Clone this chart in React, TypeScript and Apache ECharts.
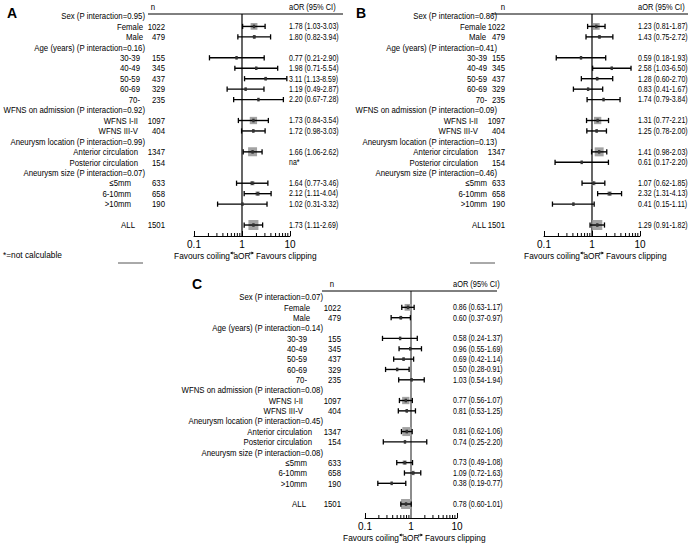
import React, { useEffect, useRef } from "react";
import * as echarts from "echarts";

// ---------- data ----------
const subgroups = [
  "Female", "Male", "30-39", "40-49", "50-59", "60-69", "70-",
  "WFNS I-II", "WFNS III-V", "Anterior circulation", "Posterior circulation",
  "≤5mm", "6-10mm", ">10mm", "ALL",
];
const subgroupRows = [1, 2, 4, 5, 6, 7, 8, 10, 11, 13, 14, 16, 17, 18, 20];
const subgroupGroup = [0, 0, 1, 1, 1, 1, 1, 2, 2, 3, 3, 4, 4, 4, 5];
const nValues = [1022, 479, 155, 345, 437, 329, 235, 1097, 404, 1347, 154, 633, 658, 190, 1501];

const headerNames = ["Sex", "Age (years)", "WFNS on admission", "Aneurysm location", "Aneurysm size"];
const headerRows = [0, 3, 9, 12, 15];

const pInteractionA = ["0.95", "0.16", "0.92", "0.99", "0.07"];
const pInteractionB = ["0.86", "0.41", "0.09", "0.13", "0.46"];
const pInteractionC = ["0.07", "0.14", "0.08", "0.45", "0.08"];

const estA = [1.78, 1.8, 0.77, 1.98, 3.11, 1.19, 2.2, 1.73, 1.72, 1.66, null, 1.64, 2.12, 1.02, 1.73];
const lowA = [1.03, 0.82, 0.21, 0.71, 1.13, 0.49, 0.67, 0.84, 0.98, 1.06, null, 0.77, 1.11, 0.31, 1.11];
const highA = [3.03, 3.94, 2.9, 5.54, 8.59, 2.87, 7.28, 3.54, 3.03, 2.62, null, 3.46, 4.04, 3.32, 2.69];

const estB = [1.23, 1.43, 0.59, 2.58, 1.28, 0.83, 1.74, 1.31, 1.25, 1.41, 0.61, 1.07, 2.32, 0.41, 1.29];
const lowB = [0.81, 0.75, 0.18, 1.03, 0.6, 0.41, 0.79, 0.77, 0.78, 0.98, 0.17, 0.62, 1.31, 0.15, 0.91];
const highB = [1.87, 2.72, 1.93, 6.5, 2.7, 1.67, 3.84, 2.21, 2.0, 2.03, 2.2, 1.85, 4.13, 1.11, 1.82];

const estC = [0.86, 0.6, 0.58, 0.96, 0.69, 0.5, 1.03, 0.77, 0.81, 0.81, 0.74, 0.73, 1.09, 0.38, 0.78];
const lowC = [0.63, 0.37, 0.24, 0.55, 0.42, 0.28, 0.54, 0.56, 0.53, 0.62, 0.25, 0.49, 0.72, 0.19, 0.6];
const highC = [1.17, 0.97, 1.37, 1.69, 1.14, 0.91, 1.94, 1.07, 1.25, 1.06, 2.2, 1.08, 1.63, 0.77, 1.01];

const minorTickValues = [0.2, 0.3, 0.4, 0.5, 0.6, 0.7, 0.8, 0.9, 2, 3, 4, 5, 6, 7, 8, 9];

// ---------- layout ----------
const FONT = "'Liberation Sans', Arial, sans-serif";
const SX_LABEL = 0.84;
const SX_VALUE = 0.75;

const panels = [
  {
    letter: "A", letterX: 12, letterY: 13,
    est: estA, low: lowA, high: highA, p: pInteractionA,
    grid: { left: 194, top: 14, width: 96, height: 222 }, yMin: -0.19, yMax: 21.05,
    hdrDx: -49, subDx: [-51, -54, -56, -56, -63, -59], nDx: -29, nHdrDx: -41, lineFrom: -46, lineTo: 53, valDx: -1,
    refColor: "#000", refWidth: 1.2,
  },
  {
    letter: "B", letterX: 361, letterY: 13,
    est: estB, low: lowB, high: highB, p: pInteractionB,
    grid: { left: 544, top: 14, width: 96, height: 222 }, yMin: -0.19, yMax: 21.05,
    hdrDx: -47, subDx: [-58, -57, -66, -66, -57, -58], nDx: -39, nHdrDx: -41, lineFrom: -52, lineTo: 48, valDx: -2,
    refColor: "#000", refWidth: 1.2,
  },
  {
    letter: "C", letterX: 197, letterY: 284,
    est: estC, low: lowC, high: highC, p: pInteractionC,
    grid: { left: 365, top: 291, width: 92, height: 227 }, yMin: -0.58, yMax: 21.35,
    hdrDx: -42, subDx: [-55, -58, -62, -53, -58, -59], nDx: -24, nHdrDx: -33, lineFrom: -43, lineTo: 40, valDx: -4,
    refColor: "#8c8c8c", refWidth: 2,
  },
];

function txt(x: number, y: number, text: string, align: string, size = 9.3, sx = SX_LABEL) {
  return {
    type: "text",
    x, y, scaleX: sx, scaleY: 1,
    style: {
      x: 0, y: 0, text,
      fill: "#000", textFill: "#000",
      font: `${size}px ${FONT}`,
      align, textAlign: align,
      verticalAlign: "middle", textVerticalAlign: "middle",
    },
  };
}

function fmt(v: number) {
  return v.toFixed(2);
}

function buildOption() {
  const series: any[] = [];
  panels.forEach((p, pi) => {
    // frame: reference line, header line, column headers, bottom caption
    series.push({
      type: "custom", xAxisIndex: pi, yAxisIndex: pi, clip: false, z: 1,
      encode: { x: 0, y: 1 },
      data: [[1, 0]],
      itemStyle: { color: "#000" },
      renderItem: (params: any, api: any) => {
        const cs = params.coordSys;
        const x1 = api.coord([1, 0])[0];
        const top = cs.y, bottom = cs.y + cs.height, L = cs.x, R = cs.x + cs.width;
        const ay = bottom + 17;
        return {
          type: "group",
          children: [
            { type: "line", shape: { x1, y1: top, x2: x1, y2: bottom }, style: { stroke: p.refColor, lineWidth: p.refWidth } },
            { type: "line", shape: { x1: L + p.lineFrom, y1: top, x2: R + p.lineTo, y2: top }, style: { stroke: "#000", lineWidth: 1 } },
            txt(L + p.nHdrDx, top - 7, "n", "center"),
            txt(R + p.valDx, top - 7, "aOR (95% CI)", "left", 9.3, 0.8),
            txt(x1 - 12, bottom + 20, "Favours coiling", "right", 9.8, 0.85),
            txt(x1, bottom + 20, "aOR", "center", 9.8, 0.85),
            txt(x1 + 14, bottom + 20, "Favours clipping", "left", 9.8, 0.85),
            { type: "line", shape: { x1: x1 - 7, y1: ay, x2: x1 - 10, y2: ay }, style: { stroke: "#000", lineWidth: 0.8 } },
            { type: "polygon", shape: { points: [[x1 - 12, ay], [x1 - 9.5, ay - 1.5], [x1 - 9.5, ay + 1.5]] }, style: { fill: "#000" } },
            { type: "line", shape: { x1: x1 + 7, y1: ay, x2: x1 + 10, y2: ay }, style: { stroke: "#000", lineWidth: 0.8 } },
            { type: "polygon", shape: { points: [[x1 + 12, ay], [x1 + 9.5, ay - 1.5], [x1 + 9.5, ay + 1.5]] }, style: { fill: "#000" } },
          ],
        };
      },
    });
    // minor ticks
    series.push({
      type: "custom", xAxisIndex: pi, yAxisIndex: pi, clip: false, z: 2,
      encode: { x: 0, y: 1 },
      data: minorTickValues.map((v) => [v, 0]),
      itemStyle: { color: "#000" },
      renderItem: (params: any, api: any) => {
        const cs = params.coordSys;
        const x = api.coord([api.value(0), 0])[0];
        const bottom = cs.y + cs.height;
        return { type: "line", shape: { x1: x, y1: bottom, x2: x, y2: bottom - 3 }, style: { stroke: "#000", lineWidth: 1 } };
      },
    });
    // group headers
    series.push({
      type: "custom", xAxisIndex: pi, yAxisIndex: pi, clip: false, z: 3,
      encode: { x: 0, y: 1 },
      data: headerRows.map((r) => [1, r]),
      itemStyle: { color: "#000" },
      renderItem: (params: any, api: any) => {
        const cs = params.coordSys;
        const i = params.dataIndex;
        const y = api.coord([1, api.value(1)])[1];
        return txt(cs.x + p.hdrDx, y, `${headerNames[i]} (P interaction=${p.p[i]})`, "right");
      },
    });
    // subgroup labels, n, estimate text
    series.push({
      type: "custom", xAxisIndex: pi, yAxisIndex: pi, clip: false, z: 3,
      encode: { x: 0, y: 1 },
      data: subgroupRows.map((r) => [1, r]),
      itemStyle: { color: "#000" },
      renderItem: (params: any, api: any) => {
        const cs = params.coordSys;
        const i = params.dataIndex;
        const y = api.coord([1, api.value(1)])[1];
        const e = p.est[i], lo = p.low[i], hi = p.high[i];
        const vt = e == null ? "na*" : `${fmt(e)} (${fmt(lo as number)}-${fmt(hi as number)})`;
        return {
          type: "group",
          children: [
            txt(cs.x + p.subDx[subgroupGroup[i]], y, subgroups[i], "right"),
            txt(cs.x + p.nDx, y, String(nValues[i]), "right"),
            txt(cs.x + cs.width + p.valDx, y, vt, "left", 9.3, SX_VALUE),
          ],
        };
      },
    });
    // confidence intervals and point estimates
    series.push({
      type: "custom", xAxisIndex: pi, yAxisIndex: pi, clip: false, z: 4,
      encode: { x: [0, 1, 2], y: 3 },
      itemStyle: { color: "#000" },
      data: subgroupRows.map((r, i) => [
        p.est[i] == null ? "-" : p.est[i],
        p.low[i] == null ? "-" : p.low[i],
        p.high[i] == null ? "-" : p.high[i],
        r,
        nValues[i],
      ]),
      renderItem: (params: any, api: any) => {
        const e = api.value(0), lo = api.value(1), hi = api.value(2), r = api.value(3), n = api.value(4);
        if (!isFinite(e) || !isFinite(lo) || !isFinite(hi)) return { type: "group", children: [] };
        const pe = api.coord([e, r]);
        const pl = api.coord([lo, r]);
        const ph = api.coord([hi, r]);
        const s = Math.max(2, (10 * n) / 1501);
        return {
          type: "group",
          children: [
            { type: "rect", shape: { x: pe[0] - s / 2, y: pe[1] - s / 2, width: s, height: s }, style: { fill: "#a3a3a3" } },
            { type: "line", shape: { x1: pl[0], y1: pl[1], x2: ph[0], y2: ph[1] }, style: { stroke: "#000", lineWidth: 1.4 } },
            { type: "line", shape: { x1: pl[0], y1: pl[1] - 2.6, x2: pl[0], y2: pl[1] + 2.6 }, style: { stroke: "#000", lineWidth: 1.3 } },
            { type: "line", shape: { x1: ph[0], y1: ph[1] - 2.6, x2: ph[0], y2: ph[1] + 2.6 }, style: { stroke: "#000", lineWidth: 1.3 } },
            { type: "rect", shape: { x: pe[0] - 1.2, y: pe[1] - 1.8, width: 2.4, height: 3.6 }, style: { fill: "#333" } },
          ],
        };
      },
    });
  });

  return {
    animation: false,
    backgroundColor: "#fff",
    color: ["#000"],
    grid: panels.map((p) => ({ ...p.grid, containLabel: false })),
    xAxis: panels.map((p, pi) => ({
      type: "log", logBase: 10, min: 0.1, max: 10, gridIndex: pi, position: "bottom",
      axisLine: { show: true, onZero: false, lineStyle: { color: "#000", width: 1 } },
      axisTick: { show: true, inside: true, length: 5, lineStyle: { color: "#000", width: 1 } },
      axisLabel: { color: "#000", fontSize: 10, margin: 3, fontFamily: FONT },
      splitLine: { show: false },
    })),
    yAxis: panels.map((p, pi) => ({
      type: "value", gridIndex: pi, min: p.yMin, max: p.yMax, inverse: true, show: false,
      axisLine: { onZero: false },
      splitLine: { show: false },
    })),
    graphic: [
      ...panels.map((p) => ({
        type: "text", x: p.letterX, y: p.letterY,
        style: { text: p.letter, font: "bold 14px 'Liberation Sans', Arial, sans-serif", fill: "#000", textFill: "#000", align: "center", verticalAlign: "middle", textAlign: "center", textVerticalAlign: "middle" },
      })),
      {
        type: "text", x: 3, y: 255, scaleX: 0.85,
        style: { text: "*=not calculable", font: `9.8px ${FONT}`, fill: "#000", textFill: "#000", align: "left", verticalAlign: "middle", textAlign: "left", textVerticalAlign: "middle" },
      },
      { type: "line", shape: { x1: 118, y1: 263, x2: 143, y2: 263 }, style: { stroke: "#555", lineWidth: 1 } },
      { type: "line", shape: { x1: 470, y1: 263, x2: 495, y2: 263 }, style: { stroke: "#555", lineWidth: 1 } },
    ],
    series,
  };
}

export default function App() {
  const ref = useRef<HTMLDivElement>(null);
  useEffect(() => {
    document.body.style.margin = "0";
    if (!ref.current) return;
    const chart = echarts.init(ref.current, undefined, { renderer: "svg" });
    chart.setOption(buildOption() as any);
    return () => chart.dispose();
  }, []);
  return <div ref={ref} style={{ position: "absolute", left: 0, top: 0, width: 692, height: 545, background: "#fff" }} />;
}
